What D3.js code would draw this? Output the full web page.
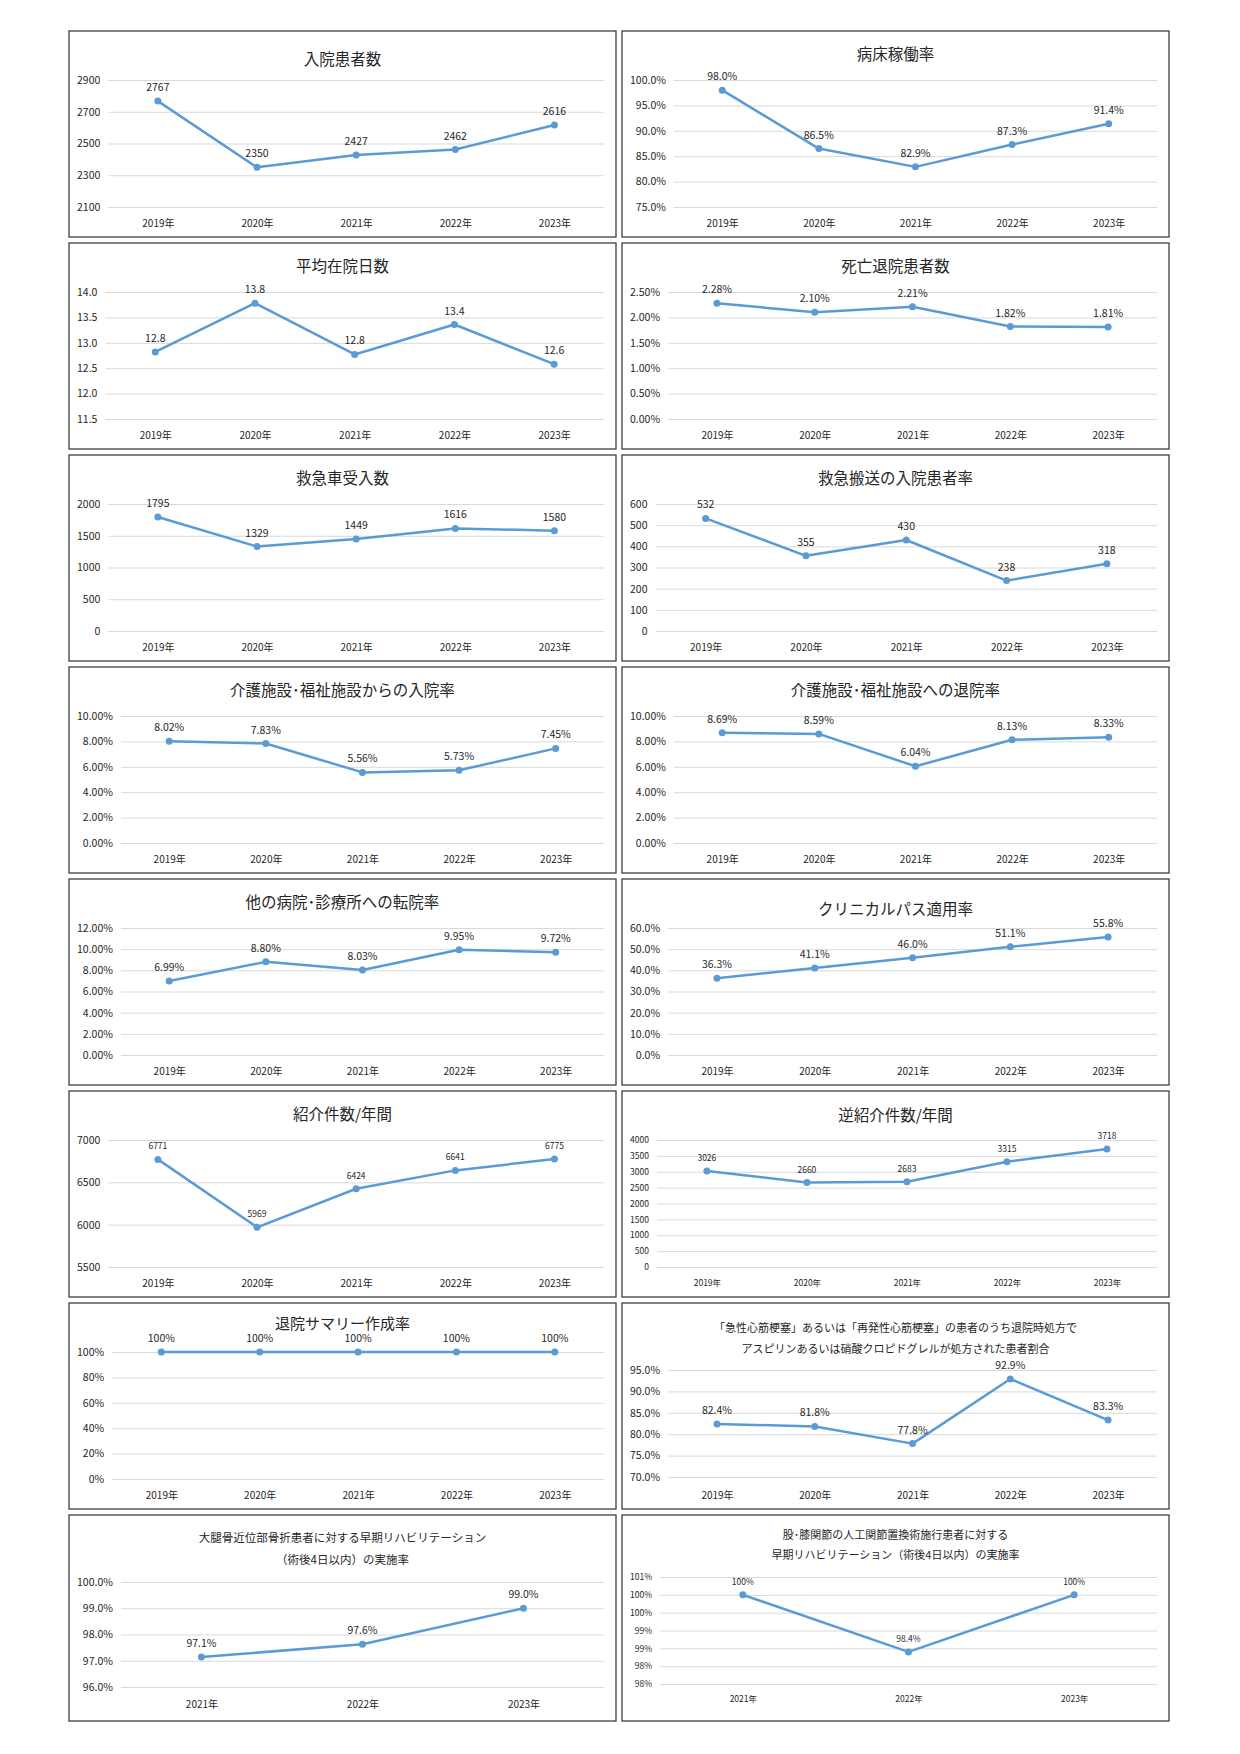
<!DOCTYPE html>
<html>
<head>
<meta charset="utf-8">
<script src="https://cdn.jsdelivr.net/npm/d3@7"></script>
<style>
  body { margin: 0; background: #fff; }
  svg { display: block; }
  text { font-family: "Noto Sans CJK JP", "Noto Sans", sans-serif; fill: #262626; }
</style>
</head>
<body>
<div id="vis_result"></div>
<script>
// categories
var years5 = ['2019年', '2020年', '2021年', '2022年', '2023年']
var years3 = ['2021年', '2022年', '2023年']

// series values
var inpatients = [2767, 2350, 2427, 2462, 2616]
var bedOccupancy = [98.0, 86.5, 82.9, 87.3, 91.4]
var avgStay = [12.82, 13.78, 12.77, 13.36, 12.58]
var deathDischarge = [2.28, 2.10, 2.21, 1.82, 1.81]
var ambulance = [1795, 1329, 1449, 1616, 1580]
var emergencyAdmit = [532, 355, 430, 238, 318]
var fromCareFacility = [8.02, 7.83, 5.56, 5.73, 7.45]
var toCareFacility = [8.69, 8.59, 6.04, 8.13, 8.33]
var transferRate = [6.99, 8.80, 8.03, 9.95, 9.72]
var clinicalPath = [36.3, 41.1, 46.0, 51.1, 55.8]
var referrals = [6771, 5969, 6424, 6641, 6775]
var reverseReferrals = [3026, 2660, 2683, 3315, 3718]
var summaryRate = [100, 100, 100, 100, 100]
var amiAspirin = [82.4, 81.8, 77.8, 92.9, 83.3]
var hipFractureRehab = [97.14, 97.63, 99.0]
var jointRehab = [100, 98.4, 100]

// y tick values
var inpatientTicks = [2100, 2300, 2500, 2700, 2900]
var bedTicks = [75, 80, 85, 90, 95, 100]
var stayTicks = [11.5, 12.0, 12.5, 13.0, 13.5, 14.0]
var deathTicks = [0, 0.5, 1.0, 1.5, 2.0, 2.5]
var ambulanceTicks = [0, 500, 1000, 1500, 2000]
var emergencyTicks = [0, 100, 200, 300, 400, 500, 600]
var careTicks = [0, 2, 4, 6, 8, 10]
var transferTicks = [0, 2, 4, 6, 8, 10, 12]
var pathTicks = [0, 10, 20, 30, 40, 50, 60]
var referralTicks = [5500, 6000, 6500, 7000]
var reverseTicks = [0, 500, 1000, 1500, 2000, 2500, 3000, 3500, 4000]
var summaryTicks = [0, 20, 40, 60, 80, 100]
var amiTicks = [70, 75, 80, 85, 90, 95]
var hipTicks = [96, 97, 98, 99, 100]
var jointTicks = [97.5, 98, 98.5, 99, 99.5, 100, 100.5]

// titles
var titles = [
    ['入院患者数'], ['病床稼働率'], ['平均在院日数'], ['死亡退院患者数'],
    ['救急車受入数'], ['救急搬送の入院患者率'],
    ['介護施設･福祉施設からの入院率'], ['介護施設･福祉施設への退院率'],
    ['他の病院･診療所への転院率'], ['クリニカルパス適用率'],
    ['紹介件数/年間'], ['逆紹介件数/年間'], ['退院サマリー作成率'],
    ['「急性心筋梗塞」あるいは「再発性心筋梗塞」の患者のうち退院時処方で', 'アスピリンあるいは硝酸クロピドグレルが処方された患者割合'],
    ['大腿骨近位部骨折患者に対する早期リハビリテーション', '（術後4日以内）の実施率'],
    ['股･膝関節の人工関節置換術施行患者に対する', '早期リハビリテーション（術後4日以内）の実施率']
]

function pct(spec) {
    var f = d3.format(spec)
    return function (v) { return f(v) + '%' }
}

// chart table built from the arrays above
var charts = [
    { cats: years5, values: inpatients, ticks: inpatientTicks, tf: d3.format('d'), lf: d3.format('d'), titleY: [27] },
    { cats: years5, values: bedOccupancy, ticks: bedTicks, tf: pct('.1f'), lf: pct('.1f') },
    { cats: years5, values: avgStay, ticks: stayTicks, tf: d3.format('.1f'), lf: d3.format('.1f') },
    { cats: years5, values: deathDischarge, ticks: deathTicks, tf: pct('.2f'), lf: pct('.2f') },
    { cats: years5, values: ambulance, ticks: ambulanceTicks, tf: d3.format('d'), lf: d3.format('d') },
    { cats: years5, values: emergencyAdmit, ticks: emergencyTicks, tf: d3.format('d'), lf: d3.format('d') },
    { cats: years5, values: fromCareFacility, ticks: careTicks, tf: pct('.2f'), lf: pct('.2f') },
    { cats: years5, values: toCareFacility, ticks: careTicks, tf: pct('.2f'), lf: pct('.2f') },
    { cats: years5, values: transferRate, ticks: transferTicks, tf: pct('.2f'), lf: pct('.2f') },
    { cats: years5, values: clinicalPath, ticks: pathTicks, tf: pct('.1f'), lf: pct('.1f'), titleY: [29] },
    { cats: years5, values: referrals, ticks: referralTicks, tf: d3.format('d'), lf: d3.format('d'), labelFs: 8.5 },
    { cats: years5, values: reverseReferrals, ticks: reverseTicks, tf: d3.format('d'), lf: d3.format('d'), tickFs: 8.5, labelFs: 8.5, xFs: 8.5, titleY: [23] },
    { cats: years5, values: summaryRate, ticks: summaryTicks, tf: pct('.0f'), lf: pct('.0f'), titleY: [19], titleFs: 15 },
    { cats: years5, values: amiAspirin, ticks: amiTicks, tf: pct('.1f'), lf: pct('.1f'), titleFs: 11, titleY: [24, 45], top: 67, bottom: 174 },
    { cats: years3, values: hipFractureRehab, ticks: hipTicks, tf: pct('.1f'), lf: pct('.1f'), titleFs: 11.5, titleY: [22, 44], top: 67, bottom: 172, xLabY: 189 },
    { cats: years3, values: jointRehab, ticks: jointTicks, tf: pct('.0f'), lf: pct('.1~f'), titleFs: 11, titleY: [19, 39], top: 62, bottom: 169, xLabY: 184, tickFs: 8.5, labelFs: 8.5, xFs: 8.5 }
]

var W = 1240, H = 1754
var panelW = 547, panelH = 206
var blue = '#5B9BD5'

var svg = d3.select('#vis_result').append('svg')
    .attr('width', W).attr('height', H)

charts.forEach(function (c, i) {
    var px = 69 + (i % 2) * 553
    var py = 31 + Math.floor(i / 2) * 212
    var titleFs = c.titleFs || 15.5
    var tickFs = c.tickFs || 10.5
    var labelFs = c.labelFs || 10.5
    var xFs = c.xFs || 10
    var top = c.top || 49
    var bottom = c.bottom || 176
    var xLabY = c.xLabY || 192
    var right = panelW - 12

    var g = svg.append('g').attr('transform', `translate(${px},${py})`)

    g.append('rect')
        .attr('width', panelW).attr('height', panelH)
        .attr('fill', '#fff').attr('stroke', '#3f3f3f').attr('stroke-width', 1.3)

    var tY = c.titleY || [22]
    titles[i].forEach(function (line, k) {
        g.append('text')
            .attr('x', panelW / 2).attr('y', tY[k])
            .attr('text-anchor', 'middle').attr('dominant-baseline', 'central')
            .style('font-size', titleFs + 'px')
            .text(line)
    })

    // measure widest tick label to place the plot's left edge
    var maxW = 0
    c.ticks.forEach(function (t) {
        var tmp = g.append('text').style('font-size', tickFs + 'px').text(c.tf(t))
        maxW = Math.max(maxW, tmp.node().getComputedTextLength())
        tmp.remove()
    })
    var left = 8 + maxW + 8

    var y = d3.scaleLinear()
        .domain([c.ticks[0], c.ticks[c.ticks.length - 1]])
        .range([bottom, top])
    var x = d3.scalePoint()
        .domain(c.cats)
        .range([left, right])
        .padding(0.5)

    var yAxis = g.append('g')
        .attr('transform', `translate(${left},0)`)
        .call(d3.axisLeft(y).tickValues(c.ticks).tickFormat(c.tf)
            .tickSize(-(right - left)).tickPadding(8))
    yAxis.select('.domain').remove()
    yAxis.selectAll('line').attr('stroke', '#d9d9d9').attr('stroke-width', 1)
    yAxis.selectAll('text').style('font-size', tickFs + 'px').attr('fill', '#262626')

    var xAxis = g.append('g')
        .attr('transform', `translate(0,${bottom})`)
        .call(d3.axisBottom(x).tickSize(0).tickPadding(xLabY - bottom - xFs * 0.36))
    xAxis.select('.domain').remove()
    xAxis.selectAll('text').style('font-size', xFs + 'px').attr('fill', '#262626')

    var pts = c.cats.map(function (cat, k) { return { cat: cat, v: c.values[k] } })

    g.append('path')
        .datum(pts)
        .attr('fill', 'none')
        .attr('stroke', blue)
        .attr('stroke-width', 2.5)
        .attr('stroke-linejoin', 'round')
        .attr('d', d3.line()
            .x(function (d) { return x(d.cat) })
            .y(function (d) { return y(d.v) }))

    g.selectAll('circle.pt')
        .data(pts)
        .enter()
        .append('circle')
        .attr('class', 'pt')
        .attr('cx', function (d) { return x(d.cat) })
        .attr('cy', function (d) { return y(d.v) })
        .attr('r', 3.5)
        .attr('fill', blue)

    g.selectAll('text.lbl')
        .data(pts)
        .enter()
        .append('text')
        .attr('class', 'lbl')
        .attr('x', function (d) { return x(d.cat) })
        .attr('y', function (d) { return y(d.v) - 10 })
        .attr('text-anchor', 'middle')
        .style('font-size', labelFs + 'px')
        .text(function (d) { return c.lf(d.v) })
})
</script>
</body>
</html>
